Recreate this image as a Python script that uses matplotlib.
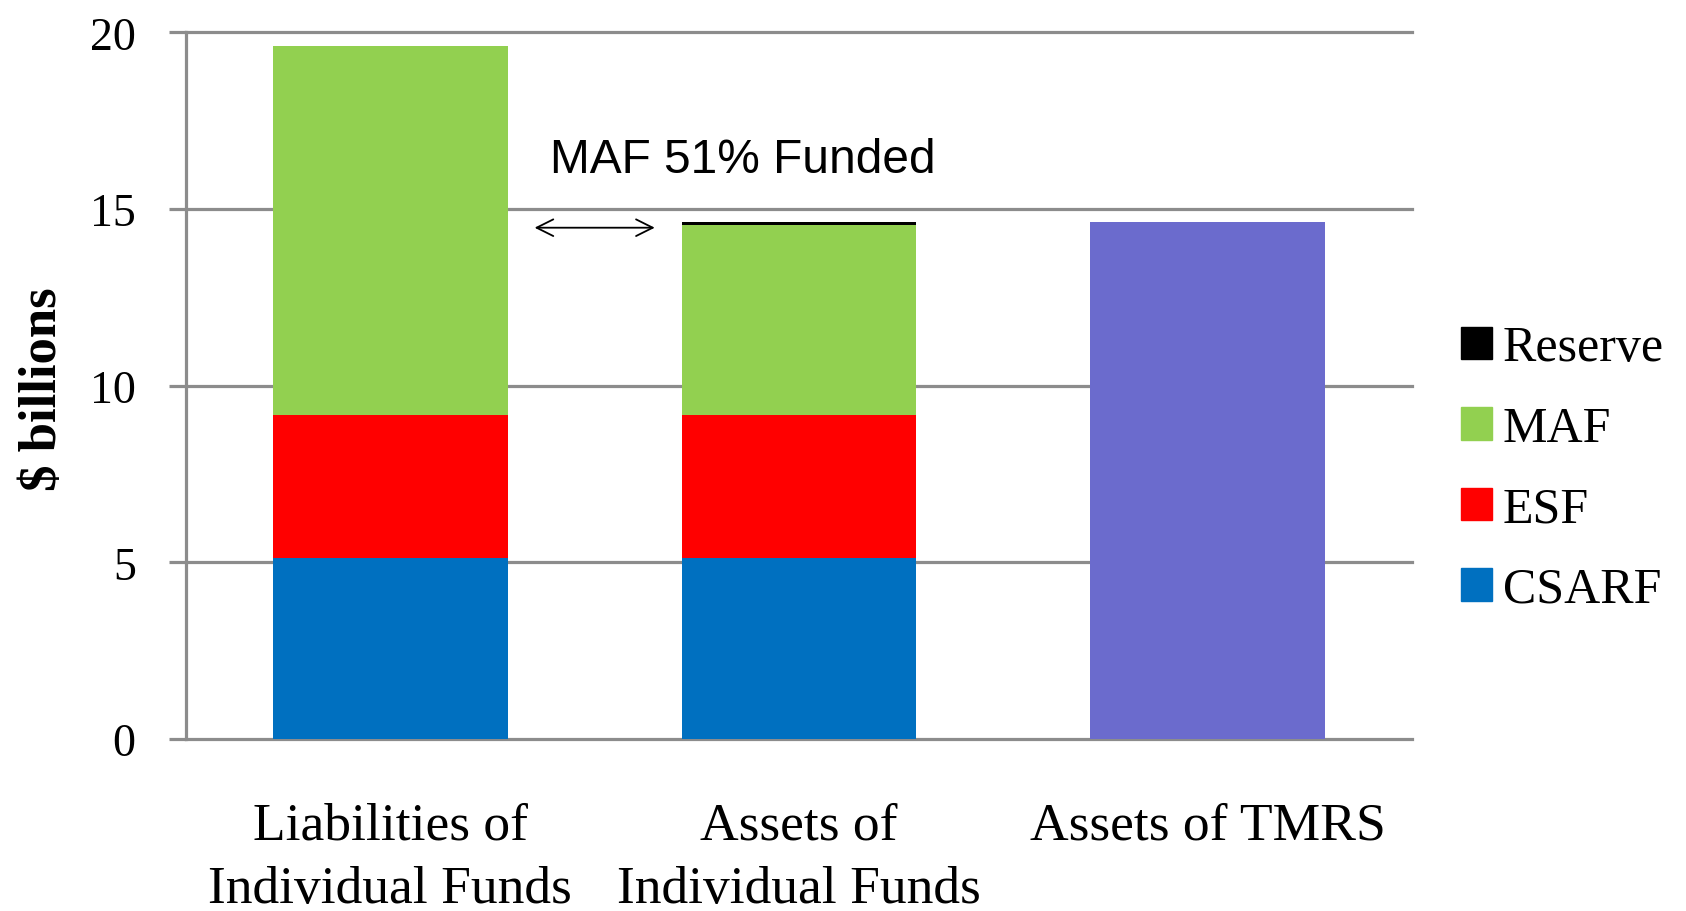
import matplotlib
matplotlib.use("Agg")
import matplotlib.pyplot as plt
from matplotlib.patches import Patch
import numpy as np

categories = ["Liabilities of\nIndividual Funds", "Assets of\nIndividual Funds", "Assets of TMRS"]
csarf = [5.12, 5.12, 0.0]
esf = [4.05, 4.05, 0.0]
maf = [10.43, 5.38, 0.0]
reserve = [0.0, 0.07, 0.0]
tmrs = [0.0, 0.0, 14.62]
yticks = [0, 5, 10, 15, 20]

c_csarf = "#0070C0"
c_esf = "#FF0000"
c_maf = "#92D050"
c_res = "#000000"
c_tmrs = "#6B6BCD"
grid_c = "#8C8C8C"

serif = ["Liberation Serif", "DejaVu Serif"]
sans = ["Liberation Sans", "DejaVu Sans"]

fig = plt.figure(figsize=(16.86, 9.12), dpi=100)
ax = fig.add_axes([186/1686, 1-740/912, (1412-186)/1686, (740-33.3)/912])

x = np.arange(len(categories))
w = 0.575
b1 = np.array(csarf)
b2 = b1 + np.array(esf)
b3 = b2 + np.array(maf)
ax.bar(x, csarf, w, color=c_csarf, zorder=2)
ax.bar(x, esf, w, bottom=b1, color=c_esf, zorder=2)
ax.bar(x, maf, w, bottom=b2, color=c_maf, zorder=2)
ax.bar(x, reserve, w, bottom=b3, color=c_res, zorder=2)
ax.bar(x, tmrs, w, color=c_tmrs, zorder=2)

ax.set_xlim(-0.5, 2.5)
ax.set_ylim(0, 20)
for yv in yticks:
    ax.axhline(yv, color=grid_c, lw=2.3, zorder=0.5, clip_on=False)

for s in ["top", "right"]:
    ax.spines[s].set_visible(False)
ax.spines["bottom"].set_visible(False)
ax.spines["left"].set_color(grid_c)
ax.spines["left"].set_linewidth(2.3)

ax.set_yticks(yticks)
ax.set_yticklabels([str(v) for v in yticks], family=serif, fontsize=33)
ax.tick_params(axis="y", length=12.2, width=2.3, color=grid_c, pad=24)
ax.set_xticks(x)
ax.set_xticklabels(categories, family=serif, fontsize=38.5, linespacing=1.43)
ax.tick_params(axis="x", length=0, pad=45)

fig.text(43/1686, 1-389/912, "$ billions", rotation=90, ha="center", va="center",
         family=serif, fontsize=38, fontweight="bold")

ax.text(0.39, 16.06, "MAF 51% Funded", family=sans, fontsize=34.5, ha="left", va="baseline")
ax.annotate("", xy=(0.353, 14.47), xytext=(0.647, 14.47),
            arrowprops=dict(arrowstyle="<->,head_length=0.6,head_width=0.3",
                            mutation_scale=20, lw=1.3, color="black",
                            shrinkA=0, shrinkB=0))

handles = [Patch(color=c_res), Patch(color=c_maf), Patch(color=c_esf), Patch(color=c_csarf)]
labels = ["Reserve", "MAF", "ESF", "CSARF"]
leg = fig.legend(handles, labels, loc="center left", bbox_to_anchor=(1460.7/1686, 1-470/912),
                 frameon=False, prop={"family": serif, "size": 36},
                 handlelength=0.62, handleheight=0.62, handletextpad=0.22,
                 labelspacing=0.68, borderpad=0, borderaxespad=0)

fig.savefig("out.png", dpi=100)
